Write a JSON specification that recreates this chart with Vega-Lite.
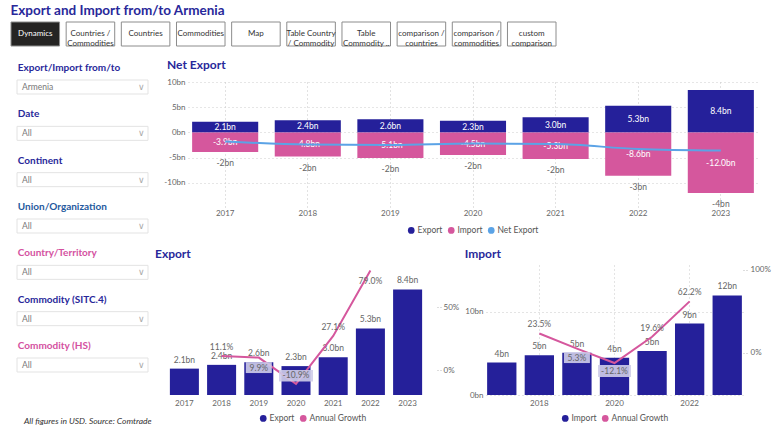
{
  "$schema": "https://vega.github.io/schema/vega-lite/v6.json",
  "background": "white",
  "padding": {"left": 10, "top": 4, "right": 4, "bottom": 4},
  "title": {"text": "Export and Import from/to Armenia", "anchor": "start", "fontSize": 13.5, "fontWeight": "bold", "color": "#28289a", "offset": 4, "font": "Lato"},
  "spacing": 11,
  "config": {
    "font": "Lato",
    "view": {"stroke": null},
    "axis": {"labelFontSize": 8, "labelColor": "#666666", "domain": false, "ticks": false, "labelFont": "Lato"},
    "legend": {"orient": "bottom", "direction": "horizontal", "symbolType": "circle", "symbolSize": 45, "labelFontSize": 8.5, "labelColor": "#555555", "columnPadding": 4, "symbolStrokeWidth": 0, "labelOffset": 2, "layout": {"bottom": {"anchor": "middle"}}},
    "title": {"anchor": "start", "fontSize": 12, "fontWeight": "bold", "color": "#28289a", "font": "Lato"}
  },
  "datasets": {
    "buttons": [
      {"b": "Dynamics"}, {"b": "Countries /\nCommodities"}, {"b": "Countries"}, {"b": "Commodities"}, {"b": "Map"},
      {"b": "Table Country\n/ Commodity"}, {"b": "Table\nCommodity .."}, {"b": "comparison /\ncountries"}, {"b": "comparison /\ncommodities"}, {"b": "custom\ncomparison"}
    ],
    "filters": [
      {"f": "Export/Import from/to", "v": "Armenia", "g": "a"},
      {"f": "Date", "v": "All", "g": "a"},
      {"f": "Continent", "v": "All", "g": "a"},
      {"f": "Union/Organization", "v": "All", "g": "b"},
      {"f": "Country/Territory", "v": "All", "g": "c"},
      {"f": "Commodity (SITC.4)", "v": "All", "g": "a"},
      {"f": "Commodity (HS)", "v": "All", "g": "c"}
    ],
    "net": [
      {"year": "2017", "series": "Export", "value": 2.1, "label": "2.1bn"},
      {"year": "2017", "series": "Import", "value": -3.9, "label": "-3.9bn", "net": -1.8, "netLabel": "-2bn"},
      {"year": "2018", "series": "Export", "value": 2.4, "label": "2.4bn"},
      {"year": "2018", "series": "Import", "value": -4.8, "label": "-4.8bn", "net": -2.4, "netLabel": "-2bn"},
      {"year": "2019", "series": "Export", "value": 2.6, "label": "2.6bn"},
      {"year": "2019", "series": "Import", "value": -5.1, "label": "-5.1bn", "net": -2.5, "netLabel": "-2bn"},
      {"year": "2020", "series": "Export", "value": 2.3, "label": "2.3bn"},
      {"year": "2020", "series": "Import", "value": -4.5, "label": "-4.5bn", "net": -2.2, "netLabel": "-2bn"},
      {"year": "2021", "series": "Export", "value": 3.0, "label": "3.0bn"},
      {"year": "2021", "series": "Import", "value": -5.3, "label": "-5.3bn", "net": -2.3, "netLabel": "-2bn"},
      {"year": "2022", "series": "Export", "value": 5.3, "label": "5.3bn"},
      {"year": "2022", "series": "Import", "value": -8.6, "label": "-8.6bn", "net": -3.3, "netLabel": "-3bn"},
      {"year": "2023", "series": "Export", "value": 8.4, "label": "8.4bn"},
      {"year": "2023", "series": "Import", "value": -12.0, "label": "-12.0bn", "net": -3.6, "netLabel": "-4bn"}
    ],
    "exp": [
      {"year": "2017", "value": 2.1, "label": "2.1bn", "growth": null, "gLabel": ""},
      {"year": "2018", "value": 2.4, "label": "2.4bn", "growth": 11.1, "gLabel": "11.1%"},
      {"year": "2019", "value": 2.6, "label": "2.6bn", "growth": 9.9, "gLabel": "9.9%"},
      {"year": "2020", "value": 2.3, "label": "2.3bn", "growth": -10.9, "gLabel": "-10.9%"},
      {"year": "2021", "value": 3.0, "label": "3.0bn", "growth": 27.1, "gLabel": "27.1%"},
      {"year": "2022", "value": 5.3, "label": "5.3bn", "growth": 79.0, "gLabel": "79.0%"},
      {"year": "2023", "value": 8.4, "label": "8.4bn", "growth": null, "gLabel": ""}
    ],
    "imp": [
      {"year": "2017", "value": 3.9, "label": "4bn", "growth": null, "gLabel": ""},
      {"year": "2018", "value": 4.8, "label": "5bn", "growth": 23.5, "gLabel": "23.5%"},
      {"year": "2019", "value": 5.1, "label": "5bn", "growth": 5.3, "gLabel": "5.3%"},
      {"year": "2020", "value": 4.5, "label": "4bn", "growth": -12.1, "gLabel": "-12.1%"},
      {"year": "2021", "value": 5.3, "label": "5bn", "growth": 19.6, "gLabel": "19.6%"},
      {"year": "2022", "value": 8.6, "label": "9bn", "growth": 62.2, "gLabel": "62.2%"},
      {"year": "2023", "value": 12.0, "label": "12bn", "growth": null, "gLabel": ""}
    ]
  },
  "resolve": {"scale": {"color": "independent"}, "legend": {"color": "independent"}},
  "vconcat": [
    {
      "width": 545, "height": 24,
      "data": {"name": "buttons"},
      "encoding": {"x": {"field": "b", "type": "nominal", "sort": null, "title": null, "scale": {"paddingInner": 0.12, "paddingOuter": 0}, "axis": null}},
      "layer": [
        {"mark": {"type": "bar", "stroke": "#8c8c8c", "strokeWidth": 1},
         "encoding": {"fill": {"condition": {"test": "datum.b === 'Dynamics'", "value": "#252423"}, "value": "white"}}},
        {"mark": {"type": "text", "fontSize": 8, "lineBreak": "\n", "lineHeight": 10},
         "encoding": {"text": {"field": "b"}, "color": {"condition": {"test": "datum.b === 'Dynamics'", "value": "white"}, "value": "#333333"}}}
      ]
    },
    {
      "spacing": 3,
      "resolve": {"scale": {"color": "independent"}, "legend": {"color": "independent"}},
      "hconcat": [
        {
          "width": 137, "height": 288,
          "data": {"name": "filters"},
          "title": {"text": "All figures in USD. Source: Comtrade", "orient": "bottom", "anchor": "start", "fontStyle": "italic", "fontWeight": "normal", "fontSize": 8.5, "color": "#333333", "offset": 45, "dx": 13},
          "encoding": {"y": {"field": "f", "type": "ordinal", "sort": null, "title": null, "scale": {"type": "point", "padding": 0.108}, "axis": null}},
          "layer": [
            {"mark": {"type": "bar", "height": 14, "fill": "white", "stroke": "#e3e3e3", "strokeWidth": 1},
             "encoding": {"x": {"datum": 0.044, "type": "quantitative", "scale": {"domain": [0, 1], "nice": false}, "axis": null}, "x2": {"datum": 1}}},
            {"mark": {"type": "text", "align": "left", "dy": -19, "fontWeight": "bold", "fontSize": 10},
             "encoding": {"x": {"datum": 0.05, "type": "quantitative"}, "text": {"field": "f"},
               "color": {"field": "g", "type": "nominal", "scale": {"domain": ["a", "b", "c"], "range": ["#28289a", "#1f5a9e", "#d4519f"]}, "legend": null}}},
            {"mark": {"type": "text", "align": "left", "fontSize": 8.5, "color": "#777777"},
             "encoding": {"x": {"datum": 0.08, "type": "quantitative"}, "text": {"field": "v"}}},
            {"mark": {"type": "text", "align": "center", "fontSize": 9, "color": "#aaaaaa"},
             "encoding": {"x": {"datum": 0.95, "type": "quantitative"}, "text": {"value": "∨"}}}
          ]
        },
        {
          "spacing": 13,
          "resolve": {"scale": {"color": "independent"}, "legend": {"color": "independent"}},
          "vconcat": [
            {
              "width": 570, "height": 126,
              "title": {"text": "Net Export", "dx": 12, "offset": 6},
              "data": {"name": "net"},
              "encoding": {"x": {"field": "year", "type": "ordinal", "title": null, "scale": {"paddingInner": 0.2, "paddingOuter": 0.05},
                "axis": {"labelAngle": 0, "labelPadding": 1, "grid": true, "gridDash": [1, 3], "gridColor": "#c4c4c4"}}},
              "layer": [
                {"mark": {"type": "bar"},
                 "encoding": {
                   "y": {"field": "value", "type": "quantitative", "stack": "zero", "title": null, "scale": {"domain": [-15, 10], "nice": false, "zero": false},
                     "axis": {"values": [-10, -5, 0, 5, 10], "tickCount": 5, "labelExpr": "datum.value + 'bn'", "labelOverlap": false, "grid": true, "gridDash": [1, 3], "gridColor": "#cccccc", "minExtent": 33, "labelPadding": 3}},
                   "color": {"field": "series", "type": "nominal", "scale": {"domain": ["Export", "Import", "Net Export"], "range": ["#25209a", "#d5579d", "#5ba3e6"]}, "legend": {"title": null, "offset": 9}}}},
                {"mark": {"type": "text", "color": "white", "fontSize": 8.5},
                 "encoding": {"y": {"field": "value", "type": "quantitative", "stack": "zero", "bandPosition": 0.5, "title": null,
                     "axis": {"values": [-10, -5, 0, 5, 10], "tickCount": 5, "labelExpr": "datum.value + 'bn'", "labelOverlap": false, "grid": true, "gridDash": [1, 3], "gridColor": "#cccccc", "minExtent": 33, "labelPadding": 3}},
                   "detail": {"field": "series"}, "text": {"field": "label"}}},
                {"transform": [{"filter": "datum.series === 'Import'"}],
                 "mark": {"type": "line", "color": "#5ba3e6", "strokeWidth": 2, "interpolate": "monotone"},
                 "encoding": {"y": {"field": "net", "type": "quantitative", "title": null,
                     "axis": {"values": [-10, -5, 0, 5, 10], "tickCount": 5, "labelExpr": "datum.value + 'bn'", "labelOverlap": false, "grid": true, "gridDash": [1, 3], "gridColor": "#cccccc", "minExtent": 33, "labelPadding": 3}}}},
                {"transform": [{"filter": "datum.series === 'Import'"}],
                 "mark": {"type": "text", "color": "#666666", "fontSize": 8.5, "dy": 11},
                 "encoding": {"y": {"field": "value", "type": "quantitative", "title": null,
                     "axis": {"values": [-10, -5, 0, 5, 10], "tickCount": 5, "labelExpr": "datum.value + 'bn'", "labelOverlap": false, "grid": true, "gridDash": [1, 3], "gridColor": "#cccccc", "minExtent": 33, "labelPadding": 3}},
                   "text": {"field": "netLabel"}}}
              ]
            },
            {
              "spacing": -6,
              "resolve": {"scale": {"color": "independent"}, "legend": {"color": "independent"}},
              "hconcat": [
                {
                  "width": 249, "height": 130,
                  "title": {"text": "Export", "offset": 4, "frame": "group", "dx": -33},
                  "data": {"name": "exp"},
                  "encoding": {"x": {"field": "year", "type": "ordinal", "title": null, "scale": {"range": [-33, 249], "paddingInner": 0.22, "paddingOuter": 0.4}, "axis": {"labelAngle": 0, "labelPadding": 4}}},
                  "layer": [
                    {"layer": [
                      {"mark": {"type": "bar"},
                       "encoding": {"y": {"field": "value", "type": "quantitative", "title": null, "scale": {"domain": [0, 10.35], "nice": false}, "axis": null},
                         "color": {"datum": "Export", "scale": {"domain": ["Export", "Annual Growth"], "range": ["#25209a", "#d5579d"]}, "legend": {"title": null, "offset": 7}}}},
                      {"mark": {"type": "text", "dy": -9, "fontSize": 8.5, "color": "#666666"},
                       "encoding": {"y": {"field": "value", "type": "quantitative", "title": null, "axis": null}, "text": {"field": "label"}}}
                    ]},
                    {"layer": [
                      {"mark": {"type": "line", "color": "#d5579d", "strokeWidth": 2},
                       "encoding": {"y": {"field": "growth", "type": "quantitative", "title": null, "scale": {"domain": [-19.8, 83.4], "nice": false, "zero": false},
                         "axis": {"orient": "right", "values": [0, 50], "labelExpr": "datum.value + '%'", "ticks": true, "tickSize": 4, "tickDash": [1, 2], "tickColor": "#bbbbbb", "labelPadding": 2, "minExtent": 0}}}},
                      {"transform": [{"filter": "datum.year === '2019'"}],
                       "mark": {"type": "point", "shape": "M-1,-0.42H1V0.42H-1Z", "size": 676, "filled": true, "color": "#cfcde9", "opacity": 0.9, "yOffset": 10},
                       "encoding": {"y": {"field": "growth", "type": "quantitative", "title": null}}},
                      {"transform": [{"filter": "datum.year === '2020'"}],
                       "mark": {"type": "point", "shape": "M-1,-0.34H1V0.34H-1Z", "size": 1156, "filled": true, "color": "#cfcde9", "opacity": 0.9, "yOffset": -8},
                       "encoding": {"y": {"field": "growth", "type": "quantitative", "title": null}}},
                      {"transform": [{"filter": "indexof(['2018','2020','2021'], datum.year) >= 0"}],
                       "mark": {"type": "text", "dy": -9, "fontSize": 8.5, "color": "#666666"},
                       "encoding": {"y": {"field": "growth", "type": "quantitative", "title": null}, "text": {"field": "gLabel"}}},
                      {"transform": [{"filter": "indexof(['2019','2022'], datum.year) >= 0"}],
                       "mark": {"type": "text", "dy": 10, "fontSize": 8.5, "color": "#666666"},
                       "encoding": {"y": {"field": "growth", "type": "quantitative", "title": null}, "text": {"field": "gLabel"}}}
                    ]}
                  ],
                  "resolve": {"scale": {"y": "independent"}}
                },
                {
                  "width": 257, "height": 130,
                  "title": {"text": "Import", "offset": 4},
                  "data": {"name": "imp"},
                  "encoding": {"x": {"field": "year", "type": "ordinal", "title": null, "scale": {"paddingInner": 0.22, "paddingOuter": 0.03},
                    "axis": {"labelAngle": 0, "labelPadding": 4, "values": ["2018", "2020", "2022"], "grid": true, "gridDash": [1, 3], "gridColor": "#c8c8c8"}}},
                  "layer": [
                    {"layer": [
                      {"mark": {"type": "bar"},
                       "encoding": {"y": {"field": "value", "type": "quantitative", "title": null, "scale": {"domain": [0, 15.66], "nice": false},
                         "axis": {"values": [0, 10], "labelExpr": "datum.value + 'bn'", "labelOverlap": false, "grid": true, "gridDash": [1, 3], "gridColor": "#c8c8c8", "minExtent": 21, "labelPadding": 3}},
                         "color": {"datum": "Import", "scale": {"domain": ["Import", "Annual Growth"], "range": ["#25209a", "#d5579d"]}, "legend": {"title": null, "offset": 7}}}},
                      {"mark": {"type": "text", "dy": -9, "fontSize": 8.5, "color": "#666666"},
                       "encoding": {"y": {"field": "value", "type": "quantitative", "title": null}, "text": {"field": "label"}}}
                    ]},
                    {"layer": [
                      {"mark": {"type": "line", "color": "#d5579d", "strokeWidth": 2},
                       "encoding": {"y": {"field": "growth", "type": "quantitative", "title": null, "scale": {"domain": [-50.6, 106], "nice": false, "zero": false},
                         "axis": {"orient": "right", "values": [0, 100], "labelExpr": "datum.value + '%'", "ticks": true, "tickSize": 5, "tickDash": [1, 2], "tickColor": "#bbbbbb", "labelPadding": 2, "minExtent": 0}}}},
                      {"transform": [{"filter": "datum.year === '2019'"}],
                       "mark": {"type": "point", "shape": "M-1,-0.42H1V0.42H-1Z", "size": 676, "filled": true, "color": "#cfcde9", "opacity": 0.9, "yOffset": 9},
                       "encoding": {"y": {"field": "growth", "type": "quantitative", "title": null}}},
                      {"transform": [{"filter": "datum.year === '2020'"}],
                       "mark": {"type": "point", "shape": "M-1,-0.36H1V0.36H-1Z", "size": 1089, "filled": true, "color": "#cfcde9", "opacity": 0.9, "yOffset": 8},
                       "encoding": {"y": {"field": "growth", "type": "quantitative", "title": null}}},
                      {"transform": [{"filter": "indexof(['2018','2021','2022'], datum.year) >= 0"}],
                       "mark": {"type": "text", "dy": -9, "fontSize": 8.5, "color": "#666666"},
                       "encoding": {"y": {"field": "growth", "type": "quantitative", "title": null}, "text": {"field": "gLabel"}}},
                      {"transform": [{"filter": "datum.year === '2019'"}],
                       "mark": {"type": "text", "dy": 9, "fontSize": 8.5, "color": "#666666"},
                       "encoding": {"y": {"field": "growth", "type": "quantitative", "title": null}, "text": {"field": "gLabel"}}},
                      {"transform": [{"filter": "datum.year === '2020'"}],
                       "mark": {"type": "text", "dy": 8, "fontSize": 8.5, "color": "#666666"},
                       "encoding": {"y": {"field": "growth", "type": "quantitative", "title": null}, "text": {"field": "gLabel"}}}
                    ]}
                  ],
                  "resolve": {"scale": {"y": "independent"}}
                }
              ]
            }
          ]
        }
      ]
    }
  ]
}
